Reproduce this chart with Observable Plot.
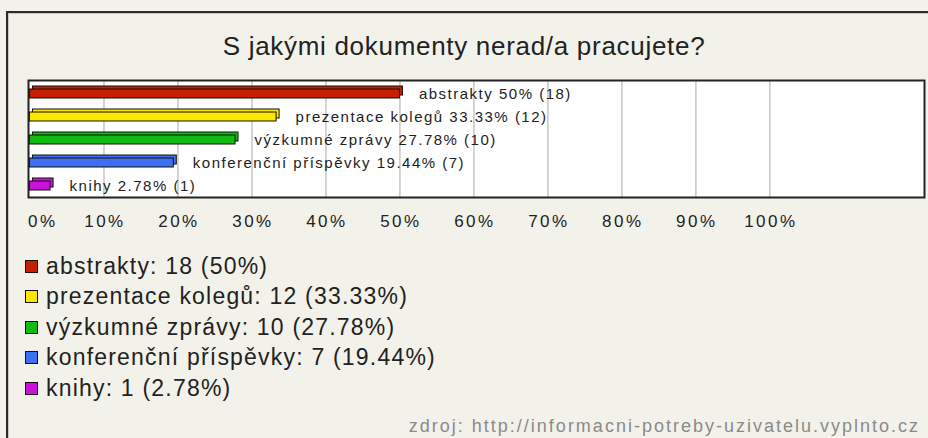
<!DOCTYPE html>
<html>
<head>
<meta charset="utf-8">
<script src="https://cdn.jsdelivr.net/npm/d3@7"></script>
<script src="https://cdn.jsdelivr.net/npm/@observablehq/plot@0.6"></script>
<style>
  html, body { margin: 0; padding: 0; }
  body { width: 928px; height: 438px; background: #f3f2ea; overflow: hidden; position: relative; font-family: "Liberation Sans", Arial, sans-serif; color: #222; }
  #border { position: absolute; left: 6px; top: 11px; right: -10px; bottom: -10px; border-top: 2px solid #2a2a2a; border-left: 2px solid #2a2a2a; box-shadow: inset 1px 1px 0 #c9c9c0; }
  #title { position: absolute; left: 0; width: 928px; top: 31px; text-align: center; font-size: 26px; letter-spacing: 0.7px; }
  #chart { position: absolute; left: 0; top: 70px; }
  #legend { position: absolute; left: 25px; top: 251px; font-size: 23px; letter-spacing: 1.2px; }
  .row { height: 30.5px; display: flex; align-items: center; white-space: nowrap; }
  .sw { width: 11px; height: 11px; border: 1.5px solid #111; margin-right: 8px; }
  #source { position: absolute; right: 8px; top: 416px; font-size: 18px; letter-spacing: 2px; color: #8a8a8a; white-space: nowrap; }
</style>
</head>
<body>
<div id="border"></div>
<div id="title"></div>
<div id="chart"></div>
<div id="legend"></div>
<div id="source"></div>
<script>
const title = "S jakými dokumenty nerad/a pracujete?";
const categories = ["abstrakty", "prezentace kolegů", "výzkumné zprávy", "konferenční příspěvky", "knihy"];
const counts = [18, 12, 10, 7, 1];
const percents = ["50", "33.33", "27.78", "19.44", "2.78"];
const colors = ["#c81e00", "#ffe600", "#11bb11", "#3f6ff0", "#cc11dd"];
const tickValues = [0, 10, 20, 30, 40, 50, 60, 70, 80, 90, 100];
const tickLabels = ["0%", "10%", "20%", "30%", "40%", "50%", "60%", "70%", "80%", "90%", "100%"];
const source = "zdroj: http://informacni-potreby-uzivatelu.vyplnto.cz";

const data = categories.map((c, i) => ({
  cat: c, count: counts[i], pct: +percents[i], pctText: percents[i], color: colors[i]
}));
const ticks = tickValues.map((v, i) => ({v, label: tickLabels[i]}));

document.getElementById("title").textContent = title;
document.getElementById("source").textContent = source;

const chart = Plot.plot({
  width: 928,
  height: 170,
  marginTop: 10,
  marginBottom: 43,
  marginLeft: 28,
  marginRight: 4,
  style: {background: "transparent", fontFamily: "'Liberation Sans', Arial, sans-serif", color: "#222", overflow: "visible"},
  x: {domain: [-0.2, 120.9], axis: null},
  y: {domain: categories, axis: null, padding: 0},
  color: {type: "identity"},
  marks: [
    Plot.frame({fill: "white"}),
    Plot.ruleX(tickValues.filter(v => v > 0), {stroke: "#c6c6c6", strokeWidth: 1.5}),
    Plot.barX(data, {x: "pct", y: "cat", fill: "color", stroke: "#111", strokeWidth: 1, dx: 3, dy: -3, insetTop: 8, insetBottom: 6}),
    Plot.barX(data, {x: "pct", y: "cat", fill: "color", stroke: "#111", strokeWidth: 1, insetTop: 8, insetBottom: 6}),
    Plot.text(data, {x: "pct", y: "cat", text: d => `${d.cat} ${d.pctText}% (${d.count})`, textAnchor: "start", dx: 19, dy: 1, fontSize: 15, fill: "#222"}),
    Plot.frame({stroke: "#222", strokeWidth: 2}),
    Plot.text(ticks.filter(d => d.v > 0), {x: "v", frameAnchor: "bottom", text: "label", dy: 29, dx: 1, fontSize: 17, fill: "#222"}),
    Plot.text(ticks.filter(d => d.v === 0), {x: "v", frameAnchor: "bottom", text: "label", dy: 29, dx: -2, textAnchor: "start", fontSize: 17, fill: "#222"})
  ]
});
chart.querySelectorAll("text").forEach(t => { t.style.letterSpacing = t.textContent.endsWith("%") ? "2.5px" : "1.5px"; });
document.getElementById("chart").appendChild(chart);

const legend = document.getElementById("legend");
data.forEach(d => {
  const row = document.createElement("div");
  row.className = "row";
  const sw = document.createElement("span");
  sw.className = "sw";
  sw.style.background = d.color;
  const t = document.createElement("span");
  t.textContent = `${d.cat}: ${d.count} (${d.pctText}%)`;
  row.appendChild(sw);
  row.appendChild(t);
  legend.appendChild(row);
});
</script>
</body>
</html>
